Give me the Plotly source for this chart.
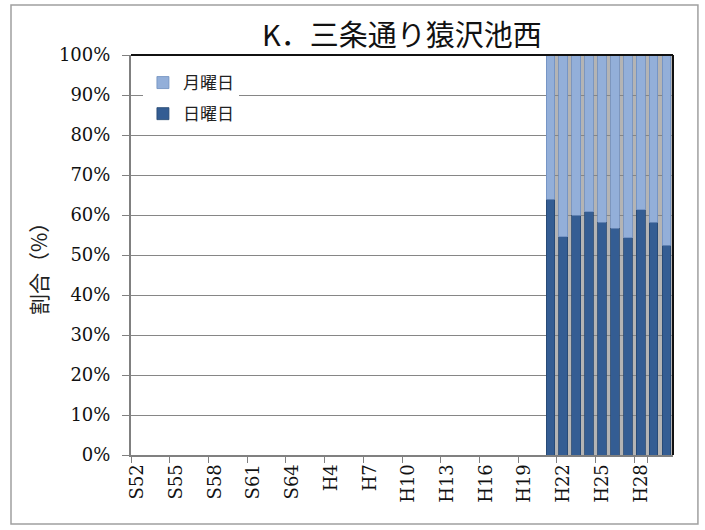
import plotly.graph_objects as go

# Categories: S52..S64, H2..H30
categories = [f"S{i}" for i in range(52, 65)] + [f"H{i}" for i in range(2, 31)]
tick_labels = ["S52", "S55", "S58", "S61", "S64", "H4", "H7", "H10", "H13", "H16", "H19", "H22", "H25", "H28"]

data_years = ["H21", "H22", "H23", "H24", "H25", "H26", "H27", "H28", "H29", "H30"]
sunday = [64.0, 54.6, 60.0, 60.8, 58.2, 56.7, 54.3, 61.3, 58.2, 52.5]   # 日曜日 (%)
monday = [36.0, 45.4, 40.0, 39.2, 41.8, 43.3, 45.7, 38.7, 41.8, 47.5]   # 月曜日 (%)

title_text = "K．三条通り猿沢池西"
ytitle_text = "割合（%）"

serif = "DejaVu Serif, Liberation Serif, serif"
cjk = "Noto Sans CJK JP, sans-serif"

fig = go.Figure()
fig.add_trace(go.Bar(
    x=data_years, y=sunday, name="日曜日", legendgroup="sun", legendrank=2,
    marker=dict(color="#345d93", line=dict(color="#244670", width=0.8)),
))
fig.add_trace(go.Bar(
    x=data_years, y=monday, name="月曜日", legendgroup="mon", legendrank=1,
    marker=dict(color="#93afd9", line=dict(color="#6f8fbf", width=0.8)),
))

first_idx = categories.index(data_years[0])
last_idx = categories.index(data_years[-1])

shapes = [
    # gray backdrop behind bar region
    dict(type="rect", xref="x", yref="y", x0=first_idx - 0.34, x1=last_idx + 0.5,
         y0=0, y1=100, fillcolor="#b4b4b4", line=dict(width=0), layer="below"),
    # top and right dark edges of plot area
    dict(type="line", xref="paper", yref="paper", x0=0, x1=1, y0=1, y1=1,
         line=dict(color="#111111", width=2)),
    dict(type="line", xref="paper", yref="paper", x0=1, x1=1, y0=0, y1=1,
         line=dict(color="#111111", width=2)),
    # outer chart frame
    dict(type="rect", xref="paper", yref="paper", x0=-0.2214, x1=1.046, y0=-0.1725, y1=1.125,
         line=dict(color="#a0a0a0", width=1.5), fillcolor="rgba(0,0,0,0)"),
]

fig.update_layout(
    width=705, height=530,
    margin=dict(l=131, r=32, t=55, b=75),
    paper_bgcolor="white", plot_bgcolor="white",
    barmode="stack", bargap=0.33,
    showlegend=True,
    legend=dict(
        x=0.022, y=0.975, xanchor="left", yanchor="top",
        traceorder="grouped", tracegroupgap=6,
        bgcolor="white", borderwidth=0,
        font=dict(family=cjk, size=17, color="#222222"),
        itemwidth=30,
    ),
    shapes=shapes,
    annotations=[
        dict(text=title_text, xref="paper", yref="paper", x=0.5, y=1.055,
             xanchor="center", yanchor="middle", showarrow=False,
             font=dict(family=cjk, size=29, color="#111111")),
        dict(text=ytitle_text, xref="paper", yref="paper", x=-0.1716, y=0.48,
             xanchor="center", yanchor="middle", showarrow=False, textangle=-90,
             font=dict(family=cjk, size=21, color="#222222")),
    ],
)

fig.update_xaxes(
    type="category", categoryorder="array", categoryarray=categories,
    range=[-0.5, len(categories) - 0.5],
    tickmode="array", tickvals=tick_labels, ticktext=tick_labels,
    tickson="boundaries", ticks="outside", ticklen=6, tickcolor="#808080",
    tickangle=-90, tickfont=dict(family=serif, size=18, color="#111111"),
    showline=True, linecolor="#808080", linewidth=2,
    showgrid=False, zeroline=False,
)
fig.update_yaxes(
    range=[0, 100], dtick=10, ticksuffix="%",
    ticks="outside", ticklen=7, tickcolor="#808080",
    tickfont=dict(family=serif, size=18, color="#111111"),
    ticklabelstandoff=8,
    showline=True, linecolor="#808080", linewidth=2,
    showgrid=True, gridcolor="#868686", gridwidth=1,
    zeroline=False,
)

fig.write_html("out.html", config={"displayModeBar": False},
               post_script="document.body.style.margin='0';")
